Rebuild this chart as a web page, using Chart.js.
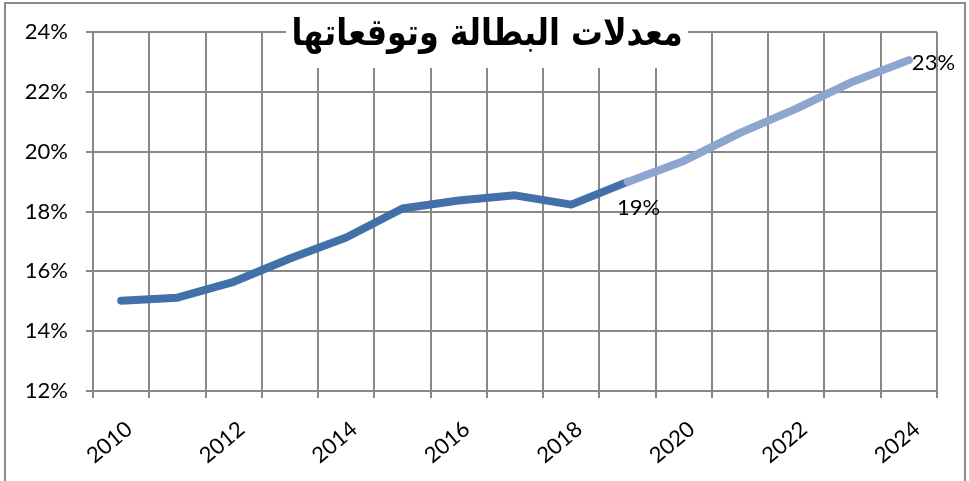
<!DOCTYPE html>
<html>
<head>
<meta charset="utf-8">
<script src="https://cdn.jsdelivr.net/npm/chart.js@4"></script>
<style>
  html, body { margin: 0; padding: 0; background: #fff; }
  canvas { display: block; }
</style>
</head>
<body>
<canvas id="chomage" width="969" height="481"></canvas>
<script>
// valeurs
var years = ['2010', '2011', '2012', '2013', '2014', '2015', '2016', '2017', '2018', '2019', '2020', '2021', '2022', '2023', '2024'];
var actual = [15.02, 15.12, 15.65, 16.43, 17.13, 18.1, 18.37, 18.54, 18.23, 18.99, null, null, null, null, null];
var forecast = [null, null, null, null, null, null, null, null, null, 18.99, 19.69, 20.63, 21.44, 22.34, 23.06];
var yTicks = [12, 14, 16, 18, 20, 22, 24];
var title = 'معدلات البطالة وتوقعاتها';
var gridColor = '#888888';
var labelFont = 'Lato, "Open Sans", sans-serif';

var decor = {
  id: 'decor',
  beforeDraw: function(chart) {
    var c = chart.ctx;
    c.save();
    c.fillStyle = '#fff';
    c.fillRect(0, 0, chart.width, chart.height);
    c.strokeStyle = '#8c8c8c';
    c.lineWidth = 2;
    c.strokeRect(5, 3, 960, 500);
    c.restore();
  },
  afterDatasetsDraw: function(chart) {
    var c = chart.ctx;
    c.save();
    c.font = '22px ' + labelFont;
    c.fillStyle = '#000';
    c.textBaseline = 'middle';
    var p0 = chart.getDatasetMeta(0).data[9];
    c.textAlign = 'center';
    c.fillText(Math.round(actual[9]) + '%', p0.x + 11, p0.y + 26);
    var p1 = chart.getDatasetMeta(1).data[14];
    c.textAlign = 'left';
    c.fillText(Math.round(forecast[14]) + '%', p1.x + 3, p1.y + 3);
    c.restore();
  },
  afterDraw: function(chart) {
    var c = chart.ctx;
    c.save();
    c.fillStyle = '#fff';
    c.fillRect(286, 12, 402, 56);
    c.fillStyle = '#000';
    c.font = 'bold 37px "DejaVu Sans", sans-serif';
    c.textAlign = 'center';
    c.textBaseline = 'middle';
    c.direction = 'rtl';
    c.translate(487, 35);
    c.scale(0.86, 1);
    c.fillText(title, 0, 0);
    c.restore();
  }
};

var ctx = document.getElementById('chomage').getContext('2d');
var chart = new Chart(ctx, {
  type: 'line',
  data: {
    labels: years,
    datasets: [
      {
        label: 'actual',
        data: actual,
        borderColor: 'rgb(66, 112, 168)',
        borderWidth: 8,
        borderCapStyle: 'round',
        borderJoinStyle: 'round',
        pointRadius: 0,
        tension: 0,
        order: 1
      },
      {
        label: 'forecast',
        data: forecast,
        borderColor: 'rgb(140, 166, 207)',
        borderWidth: 8,
        borderCapStyle: 'round',
        borderJoinStyle: 'round',
        pointRadius: 0,
        tension: 0,
        order: 0
      }
    ]
  },
  options: {
    responsive: false,
    animation: false,
    devicePixelRatio: 1,
    layout: { padding: { left: 0, top: 32, right: 32, bottom: 0 } },
    plugins: {
      legend: { display: false },
      tooltip: { enabled: false }
    },
    scales: {
      x: {
        offset: true,
        grid: { offset: true, color: gridColor, lineWidth: 2, tickLength: 7 },
        border: { color: gridColor, width: 2 },
        ticks: {
          autoSkip: false,
          minRotation: 40,
          maxRotation: 40,
          padding: 18,
          labelOffset: 8,
          color: '#000',
          font: { family: labelFont, size: 22 },
          callback: function(value, index) {
            return index % 2 === 0 ? years[index] : '';
          }
        },
        afterFit: function(scale) { scale.height = 90; }
      },
      y: {
        min: yTicks[0],
        max: yTicks[yTicks.length - 1],
        grid: { color: gridColor, lineWidth: 2, tickLength: 7 },
        border: { color: gridColor, width: 2 },
        ticks: {
          stepSize: 2,
          padding: 18,
          color: '#000',
          font: { family: labelFont, size: 22 },
          callback: function(value) { return value + '%'; }
        },
        afterFit: function(scale) { scale.width = 93; }
      }
    }
  },
  plugins: [decor]
});
</script>
</body>
</html>
